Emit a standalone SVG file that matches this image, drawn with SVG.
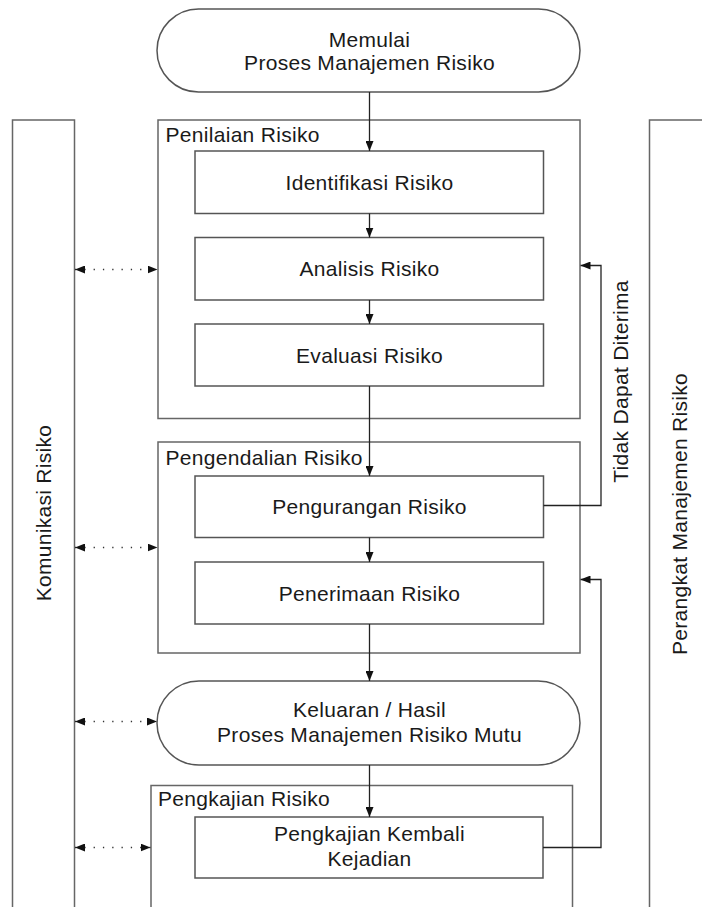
<svg xmlns="http://www.w3.org/2000/svg" width="702" height="907" viewBox="0 0 702 907">
<defs>
<marker id="ah" viewBox="0 0 10 8" refX="10" refY="4" markerWidth="10" markerHeight="8" markerUnits="userSpaceOnUse" orient="auto-start-reverse">
<path d="M0,0 L10,4 L0,8 Z" fill="#111"/>
</marker>
<style>
.t{font-family:"Liberation Sans",Arial,sans-serif;font-size:21px;letter-spacing:0.3px;fill:#1a1a1a}
.c{text-anchor:middle}
.box{fill:#fff;stroke:#555;stroke-width:1.5}
.cont{fill:none;stroke:#666;stroke-width:1.5}
.flow{fill:none;stroke:#222;stroke-width:1.3}
.dot{fill:none;stroke:#333;stroke-width:1.3;stroke-dasharray:1.3 8}
</style>
</defs>
<rect width="702" height="907" fill="#fff"/>

<g id="komunikasi">
<rect class="cont" x="12.5" y="120" width="62" height="800"/>
<text class="t c" transform="translate(50.5,513) rotate(-90)">Komunikasi Risiko</text>
</g>
<g id="perangkat">
<rect class="cont" x="649.5" y="120" width="80" height="800"/>
<text class="t c" transform="translate(687,514) rotate(-90)">Perangkat Manajemen Risiko</text>
</g>

<g id="start">
<rect class="box" x="157" y="9" width="423" height="83" rx="41.5" ry="41.5"/>
<text class="t c" x="369.5" y="47">Memulai</text>
<text class="t c" x="369.5" y="70">Proses Manajemen Risiko</text>
</g>

<g id="penilaian">
<rect class="cont" x="158" y="120" width="422" height="298.5"/>
<text class="t" x="165.5" y="141.5">Penilaian Risiko</text>
</g>
<g id="identifikasi">
<rect class="box" x="195" y="151" width="348.5" height="62.5"/>
<text class="t c" x="369.5" y="189.5">Identifikasi Risiko</text>
</g>
<g id="analisis">
<rect class="box" x="195" y="237.5" width="348.5" height="62.5"/>
<text class="t c" x="369.5" y="276">Analisis Risiko</text>
</g>
<g id="evaluasi">
<rect class="box" x="195" y="324" width="348.5" height="62"/>
<text class="t c" x="369.5" y="362.5">Evaluasi Risiko</text>
</g>

<g id="pengendalian">
<rect class="cont" x="158" y="442" width="422" height="211"/>
<text class="t" x="165.5" y="465">Pengendalian Risiko</text>
</g>
<g id="pengurangan">
<rect class="box" x="195" y="476" width="348.5" height="61.5"/>
<text class="t c" x="369.5" y="514">Pengurangan Risiko</text>
</g>
<g id="penerimaan">
<rect class="box" x="195" y="562" width="348.5" height="62"/>
<text class="t c" x="369.5" y="600.5">Penerimaan Risiko</text>
</g>

<g id="keluaran">
<rect class="box" x="157" y="681" width="423" height="84" rx="42" ry="42"/>
<text class="t c" x="369.5" y="717">Keluaran / Hasil</text>
<text class="t c" x="369.5" y="742">Proses Manajemen Risiko Mutu</text>
</g>

<g id="pengkajian">
<rect class="cont" x="151" y="785.5" width="421.5" height="140"/>
<text class="t" x="158" y="806">Pengkajian Risiko</text>
</g>
<g id="pengkajian-kembali">
<rect class="box" x="195" y="817" width="348" height="61"/>
<text class="t c" x="369.5" y="841">Pengkajian Kembali</text>
<text class="t c" x="369.5" y="866">Kejadian</text>
</g>

<g id="label-tidak">
<text class="t c" transform="translate(628,381.5) rotate(-90)">Tidak Dapat Diterima</text>
</g>

<g id="connectors">
<line class="flow" x1="369.5" y1="92" x2="369.5" y2="151" marker-end="url(#ah)"/>
<line class="flow" x1="369.5" y1="213.5" x2="369.5" y2="237.5" marker-end="url(#ah)"/>
<line class="flow" x1="369.5" y1="300" x2="369.5" y2="324" marker-end="url(#ah)"/>
<line class="flow" x1="369.5" y1="386" x2="369.5" y2="476" marker-end="url(#ah)"/>
<line class="flow" x1="369.5" y1="537.5" x2="369.5" y2="562" marker-end="url(#ah)"/>
<line class="flow" x1="369.5" y1="624" x2="369.5" y2="681" marker-end="url(#ah)"/>
<line class="flow" x1="369.5" y1="765" x2="369.5" y2="817" marker-end="url(#ah)"/>
<polyline class="flow" points="543.5,505.5 601,505.5 601,265.5 580.5,265.5" marker-end="url(#ah)"/>
<polyline class="flow" points="543,847.5 601,847.5 601,579.5 580.5,579.5" marker-end="url(#ah)"/>
<line class="dot" x1="75" y1="269.5" x2="157.5" y2="269.5" marker-start="url(#ah)" marker-end="url(#ah)"/>
<line class="dot" x1="75" y1="547.5" x2="157.5" y2="547.5" marker-start="url(#ah)" marker-end="url(#ah)"/>
<line class="dot" x1="75" y1="721.5" x2="157" y2="721.5" marker-start="url(#ah)" marker-end="url(#ah)"/>
<line class="dot" x1="75" y1="847.5" x2="150.5" y2="847.5" marker-start="url(#ah)" marker-end="url(#ah)"/>
</g>
</svg>
